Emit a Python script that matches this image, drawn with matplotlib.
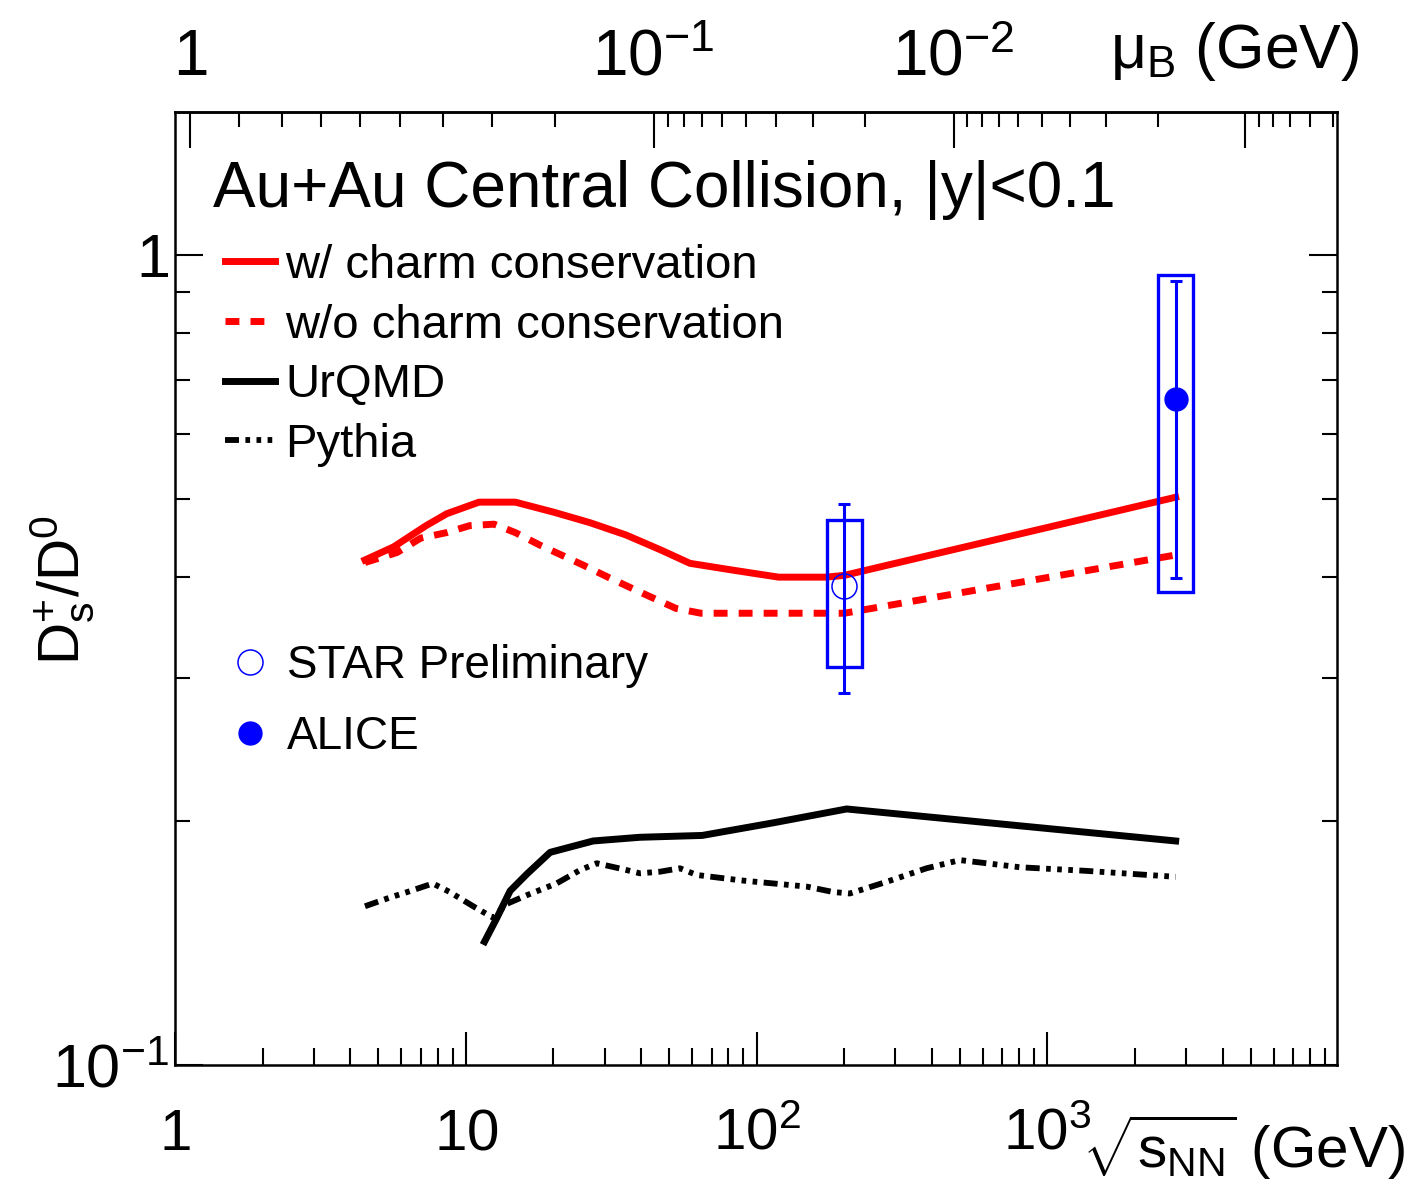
import numpy as np
import matplotlib
matplotlib.use("Agg")
import matplotlib.pyplot as plt
from matplotlib.patches import Rectangle
from matplotlib.ticker import FixedLocator, FuncFormatter, NullFormatter, LogLocator

plt.rcParams['font.family'] = ['Liberation Sans', 'DejaVu Sans']
plt.rcParams['mathtext.fontset'] = 'custom'
plt.rcParams['mathtext.rm'] = 'Liberation Sans'
plt.rcParams['mathtext.it'] = 'Liberation Sans:italic'
plt.rcParams['mathtext.bf'] = 'Liberation Sans:bold'
plt.rcParams['mathtext.default'] = 'regular'

# statistical model, with charm conservation
sn_charm = [4.5, 5.65, 7.3, 8.6, 11.1, 14.8, 20.1, 26.7, 35.5, 46.9, 59, 83, 119, 173, 200, 2760]
r_charm = [0.420, 0.436, 0.463, 0.479, 0.495, 0.495, 0.481, 0.467, 0.451, 0.432, 0.416,
           0.408, 0.400, 0.400, 0.402, 0.502]

# without charm conservation
sn_nocharm = [4.5, 5.8, 7.0, 8.6, 10.3, 12.5, 14.8, 18.0, 21.3, 25.3, 30.8, 36.4, 43.3,
              52.8, 64.4, 200, 2760]
r_nocharm = [0.417, 0.429, 0.447, 0.454, 0.463, 0.465, 0.454, 0.438, 0.426, 0.414, 0.400,
             0.389, 0.378, 0.366, 0.361, 0.361, 0.426]

# UrQMD
sn_urqmd = [11.6, 12.8, 14.2, 16.2, 19.5, 27.4, 39.7, 65, 114, 204, 2760]
r_urqmd = [0.142, 0.152, 0.164, 0.172, 0.183, 0.189, 0.191, 0.192, 0.199, 0.207, 0.189]

# Pythia
sn_pythia = [4.5, 5.5, 6.3, 7.7, 8.8, 10.6, 12.4, 13.8, 16.2, 20.5, 24.7, 28.2, 34.8, 39.7,
             46.5, 54.5, 62.2, 88, 149, 183, 209, 280, 384, 500, 571, 805, 1365, 2760]
r_pythia = [0.157, 0.161, 0.1635, 0.1675, 0.1635, 0.157, 0.152, 0.158, 0.162, 0.1675, 0.174,
            0.1774, 0.1744, 0.1724, 0.1732, 0.1749, 0.1716, 0.169, 0.166, 0.1635, 0.1628,
            0.1683, 0.1749, 0.179, 0.178, 0.1754, 0.1736, 0.1707]

# data points: value, stat error, sys error
star_sn, star_r, star_stat, star_sys = [200], [0.390], [0.102], [0.080]
alice_sn, alice_r, alice_stat, alice_sys = [2760], [0.664], [0.265], [0.280]
box_fac = 1.15


def sn_to_mub(x):
    x = np.asarray(x, dtype=float)
    return 1.308 / (1.0 + 0.273 * x)


def mub_to_sn(m):
    m = np.asarray(m, dtype=float)
    with np.errstate(divide='ignore', invalid='ignore'):
        s = (1.308 / m - 1.0) / 0.273
    return np.maximum(s, 1e-6)


W, H = 1416, 1186
fig = plt.figure(figsize=(W / 100, H / 100), dpi=100)
ax = fig.add_axes([175 / W, 1 - 1065 / H, (1337 - 175) / W, (1065 - 112) / H])
ax.set_xscale('log')
ax.set_yscale('log')
ax.set_xlim(1, 9900)
ax.set_ylim(0.1, 1.5)

red = '#ff0000'
blue = '#0000ff'
h_charm, = ax.plot(sn_charm, r_charm, color=red, lw=5, label='w/ charm conservation')
h_nocharm, = ax.plot(sn_nocharm, r_nocharm, color=red, lw=5, ls=(0, (2.0, 1.6)),
                     label='w/o charm conservation')
h_urqmd, = ax.plot(sn_urqmd, r_urqmd, color='black', lw=5, label='UrQMD')
h_pythia, = ax.plot(sn_pythia, r_pythia, color='black', lw=4.2,
                    ls=(0, (2.4, 1.1, 0.8, 1.1, 0.8, 1.1, 0.8, 1.1)), label='Pythia')

# systematic boxes
for xs, ys, es in [(star_sn, star_r, star_sys), (alice_sn, alice_r, alice_sys)]:
    for x, y, e in zip(xs, ys, es):
        ax.add_patch(Rectangle((x / box_fac, y - e), x * box_fac - x / box_fac, 2 * e,
                               fill=False, edgecolor=blue, lw=2.4, zorder=4))

ax.errorbar(star_sn, star_r, yerr=star_stat, fmt='none', ecolor=blue, elinewidth=2.2,
            capsize=4.5, capthick=2.2, zorder=5)
ax.errorbar(alice_sn, alice_r, yerr=alice_stat, fmt='none', ecolor=blue, elinewidth=2.2,
            capsize=4.5, capthick=2.2, zorder=5)
h_star, = ax.plot(star_sn, star_r, 'o', mfc='none', mec=blue, ms=18, mew=1.1,
                  label='STAR Preliminary', zorder=6)
h_alice, = ax.plot(alice_sn, alice_r, 'o', color=blue, ms=16.5, label='ALICE', zorder=6)

# axes styling
for sp in ax.spines.values():
    sp.set_linewidth(1.8)

xlab = {1: '$1$', 10: '$10$', 100: '$10^{2}$', 1000: '$10^{3}$'}
ax.xaxis.set_major_locator(FixedLocator([1, 10, 100, 1000]))
ax.xaxis.set_major_formatter(FuncFormatter(lambda v, p: xlab.get(int(round(v)), '')))
ax.xaxis.set_minor_locator(LogLocator(base=10, subs=np.arange(2, 10), numticks=20))
ax.xaxis.set_minor_formatter(NullFormatter())

ylab = {0.1: '$10^{-1}$', 1.0: '$1$'}
ax.yaxis.set_major_locator(FixedLocator([0.1, 1.0]))
ax.yaxis.set_major_formatter(FuncFormatter(lambda v, p: ylab.get(round(v, 3), '')))
ax.yaxis.set_minor_locator(LogLocator(base=10, subs=np.arange(2, 10), numticks=20))
ax.yaxis.set_minor_formatter(NullFormatter())

ax.tick_params(axis='both', which='both', direction='in', top=False, right=True, width=1.5)
ax.tick_params(axis='x', which='major', length=24, labelsize=42, pad=61)
ax.tick_params(axis='x', which='minor', length=12)
ax.tick_params(axis='y', which='major', length=20, labelsize=44, pad=4)
ax.tick_params(axis='y', which='minor', length=11)
plt.setp(ax.get_xticklabels(), va='baseline')

# top axis: baryon chemical potential
secax = ax.secondary_xaxis('top', functions=(sn_to_mub, mub_to_sn))
toplab = {0: '$1$', -1: '$10^{-1}$', -2: '$10^{-2}$'}
secax.xaxis.set_major_formatter(
    FuncFormatter(lambda v, p: toplab.get(int(round(np.log10(v))), '') if v > 0 else ''))
secax.xaxis.set_minor_formatter(NullFormatter())
secax.tick_params(which='both', direction='in', width=1.5)
secax.tick_params(which='major', length=26, labelsize=46, pad=17)
secax.tick_params(which='minor', length=11)
secax.spines['top'].set_linewidth(1.8)

# texts
fig.text(213 / W, 1 - 207 / H, 'Au+Au Central Collision, |y|<0.1', fontsize=46,
         va='baseline', ha='left')
fig.text(1360 / W, 1 - 68 / H, r'$\mu_{B}$ (GeV)', fontsize=45, va='baseline', ha='right')
fig.text(1405 / W, 1 - 1168 / H, r'$\sqrt{s_{NN}}$ (GeV)', fontsize=42, va='baseline',
         ha='right')
fig.text(62 / W, 1 - 590 / H, r'$D_{s}^{+}/D^{0}$', fontsize=42, rotation=90,
         va='center', ha='center')

leg1 = ax.legend(handles=[h_charm, h_nocharm, h_urqmd, h_pythia], loc='upper left',
                 bbox_to_anchor=(225 / W, 1 - 244 / H), bbox_transform=fig.transFigure,
                 frameon=False, fontsize=34, handlelength=1.06, handletextpad=0.21,
                 labelspacing=0.33, borderpad=0, borderaxespad=0)
ax.add_artist(leg1)
ax.legend(handles=[h_star, h_alice], loc='upper left',
          bbox_to_anchor=(227 / W, 1 - 644 / H), bbox_transform=fig.transFigure,
          frameon=False, fontsize=33, handlelength=1.0, handletextpad=0.3,
          labelspacing=0.59, borderpad=0, borderaxespad=0, numpoints=1)

fig.savefig('out.png', dpi=100)
